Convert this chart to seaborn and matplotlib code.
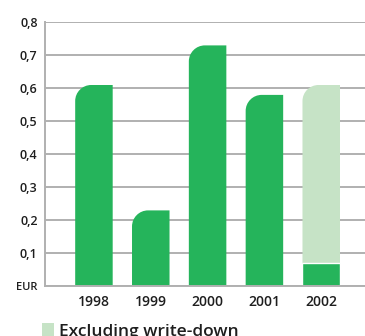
import numpy as np
import pandas as pd
import matplotlib
matplotlib.use("Agg")
import matplotlib.pyplot as plt
import seaborn as sns
from matplotlib.path import Path
from matplotlib.patches import PathPatch, Patch

years = ["1998", "1999", "2000", "2001", "2002"]
eps = [0.61, 0.23, 0.73, 0.58, 0.07]
excl = [np.nan, np.nan, np.nan, np.nan, 0.61]
yticks = [0.0, 0.1, 0.2, 0.3, 0.4, 0.5, 0.6, 0.7, 0.8]
ylabels = ["EUR", "0,1", "0,2", "0,3", "0,4", "0,5", "0,6", "0,7", "0,8"]
legend_label = "Excluding write-down"

dark = "#25b45b"
light = "#c6e3c6"
grid_c = "#b0b0b0"
text_c = "#1e1e1e"

sns.set_style("white")
plt.rcParams["font.family"] = ["Open Sans", "DejaVu Sans"]

fig = plt.figure(figsize=(3.65, 3.36), dpi=100)
ax = fig.add_axes([44.5 / 365, 1 - 286.3 / 336, 1 - 44.5 / 365, (286.3 - 22.3) / 336])

df_light = pd.DataFrame({"year": years, "v": excl})
df_dark = pd.DataFrame({"year": years, "v": eps})
sns.barplot(data=df_light, x="year", y="v", order=years, color=light,
            saturation=1, width=0.66, ax=ax, zorder=3)
n_light = len(ax.patches)
sns.barplot(data=df_dark, x="year", y="v", order=years, color=dark,
            saturation=1, width=0.66, ax=ax, zorder=4)

ax.set_xlim(-0.87, 4.77)
ax.set_ylim(0, 0.8)
ax.set_yticks(yticks)
ax.set_yticklabels(ylabels)
ax.set_xlabel("")
ax.set_ylabel("")
ax.yaxis.grid(True, color=grid_c, linewidth=1.4, zorder=0)
ax.set_axisbelow(True)
for s in ["top", "right"]:
    ax.spines[s].set_visible(False)
for s in ["left", "bottom"]:
    ax.spines[s].set_color(grid_c)
    ax.spines[s].set_linewidth(1.4)
    ax.spines[s].set_zorder(5)
ax.tick_params(axis="x", length=0, labelsize=10, labelcolor=text_c, pad=6)
ax.tick_params(axis="y", length=0, labelsize=9, labelcolor=text_c, pad=5)
for lab in ax.get_xticklabels() + ax.get_yticklabels():
    lab.set_fontweight("semibold")
ax.get_yticklabels()[0].set_fontsize(8)

# rounded top-left corners on topmost bars
fig.canvas.draw()
px_per_x = ax.transData.transform((1, 0))[0] - ax.transData.transform((0, 0))[0]
px_per_y = ax.transData.transform((0, 1))[1] - ax.transData.transform((0, 0))[1]
r_px = 16
rx = r_px / px_per_x
ry = r_px / px_per_y
k = 0.5523

patches = list(ax.patches)
light_pos = {}
for p in patches[:n_light]:
    if np.isfinite(p.get_height()) and p.get_height() > 0:
        light_pos[round(p.get_x() + p.get_width() / 2, 3)] = p.get_height()

for i, p in enumerate(patches):
    h = p.get_height()
    if not np.isfinite(h) or h <= 0:
        continue
    cx = round(p.get_x() + p.get_width() / 2, 3)
    if i >= n_light and cx in light_pos and light_pos[cx] > h:
        continue
    x0, x1 = p.get_x(), p.get_x() + p.get_width()
    y0, top = p.get_y(), p.get_y() + h
    verts = [(x0, y0), (x0, top - ry),
             (x0, top - ry + k * ry), (x0 + rx - k * rx, top), (x0 + rx, top),
             (x1, top), (x1, y0), (x0, y0)]
    codes = [Path.MOVETO, Path.LINETO, Path.CURVE4, Path.CURVE4, Path.CURVE4,
             Path.LINETO, Path.LINETO, Path.CLOSEPOLY]
    pp = PathPatch(Path(verts, codes), facecolor=p.get_facecolor(),
                   edgecolor="none", zorder=p.get_zorder())
    p.set_visible(False)
    ax.add_patch(pp)

handle = Patch(facecolor=light, edgecolor="none")
leg = fig.legend([handle], [legend_label], loc="lower left",
                 bbox_to_anchor=(42 / 365, -4 / 336), frameon=False,
                 handlelength=0.7, handleheight=0.8, handletextpad=0.3,
                 borderaxespad=0, borderpad=0,
                 prop={"size": 12.5, "weight": "semibold"})
for t in leg.get_texts():
    t.set_color(text_c)

fig.savefig("out.png", dpi=100)
